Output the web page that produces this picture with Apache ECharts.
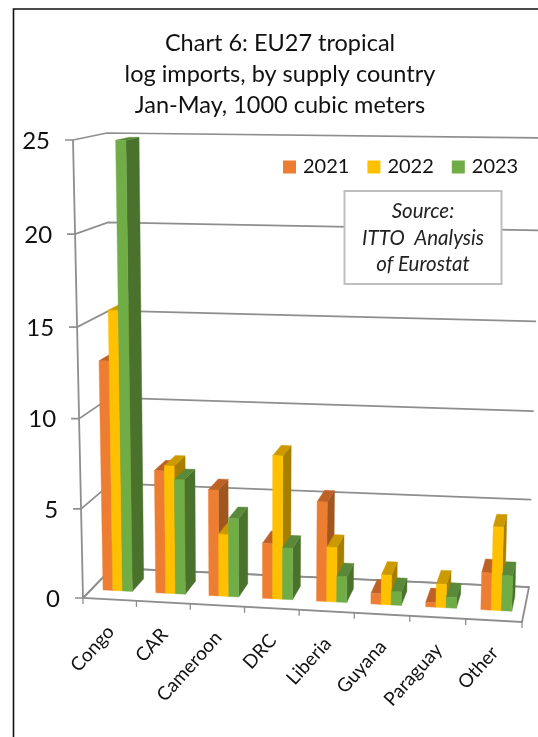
<!DOCTYPE html>
<html>
<head>
<meta charset="utf-8">
<style>html,body{margin:0;padding:0;background:#fff}#chart{width:538px;height:737px}</style>
<script src="https://cdn.jsdelivr.net/npm/echarts@6/dist/echarts.min.js"></script>
</head>
<body>
<div id="chart"></div>
<script>
// Chart content
const categories = ['Congo', 'CAR', 'Cameroon', 'DRC', 'Liberia', 'Guyana', 'Paraguay', 'Other'];
const values2021 = [12.9, 6.9, 5.95, 3.1, 5.55, 0.6, 0.25, 2.05];
const values2022 = [15.7, 7.2, 3.5, 8.0, 3.05, 1.65, 1.3, 4.6];
const values2023 = [24.9, 6.45, 4.4, 2.9, 1.45, 0.75, 0.6, 1.95];
const yTicks = [0, 5, 10, 15, 20, 25];
const yearNames = ['2021', '2022', '2023'];

// Face colours per series: front, side, top
const faces = [
  { front: '#ED7D31', side: '#A0561F', top: '#BE6127' },
  { front: '#FFC000', side: '#A67E00', top: '#CC9A00' },
  { front: '#70AD47', side: '#4A722C', top: '#5A8A39' }
];
const lineColor = '#8e8e8e';
const textFont = 'Lato, Carlito, sans-serif';
const textColor = '#111111';

// Plain cartesian plot box; its scales are bent into the 3D box below
const plot = { left: 83, top: 140, width: 440, height: 460 };

// Screen corners of the 3D box, u along categories, v up, w into depth
const box = {
  f00: [83, 598], f10: [522, 622], f01: [73, 140], f11: [536, 146],
  b00: [112, 568], b10: [529, 587], b01: [107, 133], b11: [541, 138]
};
// Foreshortening along the category and value directions
const bendU = 0.03, bendV = 0.035;
// Depth span of the bars and their width as a share of a category band
const depthNear = 0.29, depthFar = 0.71;
const barShare = 0.0232 * 8;

function project(u, v, w) {
  const mix = (a, b, t) => a + (b - a) * t;
  const s = u - bendU * u * (1 - u);
  const h = v - bendV * v * (1 - v);
  return [0, 1].map(k => {
    const f0 = mix(box.f00[k], box.f10[k], s), f1 = mix(box.f01[k], box.f11[k], s);
    const b0 = mix(box.b00[k], box.b10[k], s), b1 = mix(box.b01[k], box.b11[k], s);
    return mix(mix(f0, f1, h), mix(b0, b1, h), w);
  });
}
// Axis pixel -> normalised plot position
const toU = px => (px - plot.left) / plot.width;
const toV = py => (plot.top + plot.height - py) / plot.height;

function barRenderer(seriesIndex) {
  const c = faces[seriesIndex];
  return function (params, api) {
    const p = api.coord([api.value(0), api.value(1)]);
    const band = api.size([1, 0])[0];
    const bw = band * barShare;
    const x0 = p[0] + (seriesIndex - 1.5) * bw, x1 = x0 + bw;
    const u0 = toU(x0), u1 = toU(x1), v = toV(p[1]);
    const n = depthNear, d = depthFar;
    const poly = (pts, fill) => ({
      type: 'polygon', shape: { points: pts },
      style: { fill: fill, stroke: fill, lineWidth: 0.4 }
    });
    return {
      type: 'group',
      children: [
        poly([project(u1, 0, n), project(u1, 0, d), project(u1, v, d), project(u1, v, n)], c.side),
        poly([project(u0, v, n), project(u1, v, n), project(u1, v, d), project(u0, v, d)], c.top),
        poly([project(u0, 0, n), project(u1, 0, n), project(u1, v, n), project(u0, v, n)], c.front)
      ]
    };
  };
}

// Walls: one gridline per value tick, with its tick mark and number
function gridRenderer(params, api) {
  const value = api.value(1);
  const v = toV(api.coord([0, value])[1]);
  const a = project(0, v, 0), b = project(0, v, 1), r = project(1, v, 1);
  const children = [
    { type: 'polyline', shape: { points: [[a[0] - 8, a[1]], a, b, r] },
      style: { stroke: lineColor, lineWidth: 1.7, fill: null } },
    { type: 'text', x: a[0] - 23, y: a[1] + 1,
      style: { text: String(value), align: 'right', verticalAlign: 'middle',
               fontFamily: textFont, fontSize: 24, fill: textColor } }
  ];
  return { type: 'group', children: children };
}

// Floor outline, left upright and the category tick marks
function floorRenderer(params, api) {
  const band = api.size([1, 0])[0];
  const p = (u, v, w) => project(u, v, w);
  const children = [
    { type: 'polyline', shape: { points: [p(0, 1, 0), p(0, 0, 0), p(1, 0, 0), p(1, 0, 1), p(0, 0, 1), p(0, 0, 0)] },
      style: { stroke: lineColor, lineWidth: 1.8, fill: null } }
  ];
  categories.concat(['']).forEach((name, i) => {
    const u = toU(api.coord([i, 0])[0] - band / 2);
    const t = p(u, 0, 0);
    children.push({ type: 'line', shape: { x1: t[0], y1: t[1], x2: t[0], y2: t[1] + 6 },
      style: { stroke: lineColor, lineWidth: 1.3 } });
  });
  return { type: 'group', children: children };
}

// Slanted category names below the front edge
function labelRenderer(params, api) {
  const c = api.coord([api.value(0), 0]);
  const t = project(toU(c[0]), 0, 0);
  return {
    type: 'text', x: t[0] + 1, y: t[1] + 29, rotation: 48 * Math.PI / 180,
    style: { text: categories[api.value(0)], align: 'right', verticalAlign: 'middle',
             fontFamily: textFont, fontSize: 19, fill: textColor }
  };
}

const chart = echarts.init(document.getElementById('chart'));
const seriesValues = [values2021, values2022, values2023];

chart.setOption({
  animation: false,
  backgroundColor: '#ffffff',
  title: {
    text: 'Chart 6: EU27 tropical\nlog imports, by supply country\nJan-May, 1000 cubic meters',
    left: 275, top: 23, textAlign: 'center',
    textStyle: { fontFamily: textFont, fontSize: 23.5, fontWeight: 'normal', color: textColor, lineHeight: 31 }
  },
  legend: {
    data: yearNames, left: 283, top: 157, width: 250, padding: 0,
    itemWidth: 13, itemHeight: 13, itemGap: 18,
    icon: 'rect', selectedMode: false,
    textStyle: { fontFamily: textFont, fontSize: 20, color: textColor, padding: [0, 0, 0, 2] }
  },
  grid: { left: plot.left, top: plot.top, width: plot.width, height: plot.height },
  xAxis: { type: 'category', data: categories, show: false },
  yAxis: { type: 'value', min: 0, max: 25, interval: 5, show: false },
  series: [
    { type: 'custom', name: 'walls', silent: true, z: 1, renderItem: gridRenderer,
      data: yTicks.map(t => [0, t]), encode: { x: 0, y: 1 } },
    { type: 'custom', name: 'floor', silent: true, z: 1, renderItem: floorRenderer,
      data: [[0, 0]], encode: { x: 0, y: 1 } },
    { type: 'custom', name: 'names', silent: true, z: 1, renderItem: labelRenderer,
      data: categories.map((c, i) => [i, 0]), encode: { x: 0, y: 1 } }
  ].concat(yearNames.map((name, s) => ({
    type: 'custom', name: name, z: 2 + s, silent: true,
    itemStyle: { color: faces[s].front },
    renderItem: barRenderer(s),
    data: seriesValues[s].map((v, i) => [i, v]),
    encode: { x: 0, y: 1 }
  }))),
  graphic: [
    // Outer frame, open towards the page edges
    { type: 'polyline', z: 50, shape: { points: [[13.5, 737], [13.5, 9], [538, 9]] },
      style: { stroke: '#111', lineWidth: 1.6, fill: null } },
    // Source note
    { type: 'rect', z: 50, shape: { x: 344.5, y: 191, width: 157, height: 93 },
      style: { fill: '#fff', stroke: '#bfbfbf', lineWidth: 2 } },
    { type: 'text', z: 51, x: 423, y: 238,
      style: { text: 'Source:\nITTO  Analysis\nof Eurostat', align: 'center', verticalAlign: 'middle',
               fontFamily: textFont, fontStyle: 'italic', fontSize: 20.5, lineHeight: 26.5, fill: '#222' } }
  ]
});
</script>
</body>
</html>
